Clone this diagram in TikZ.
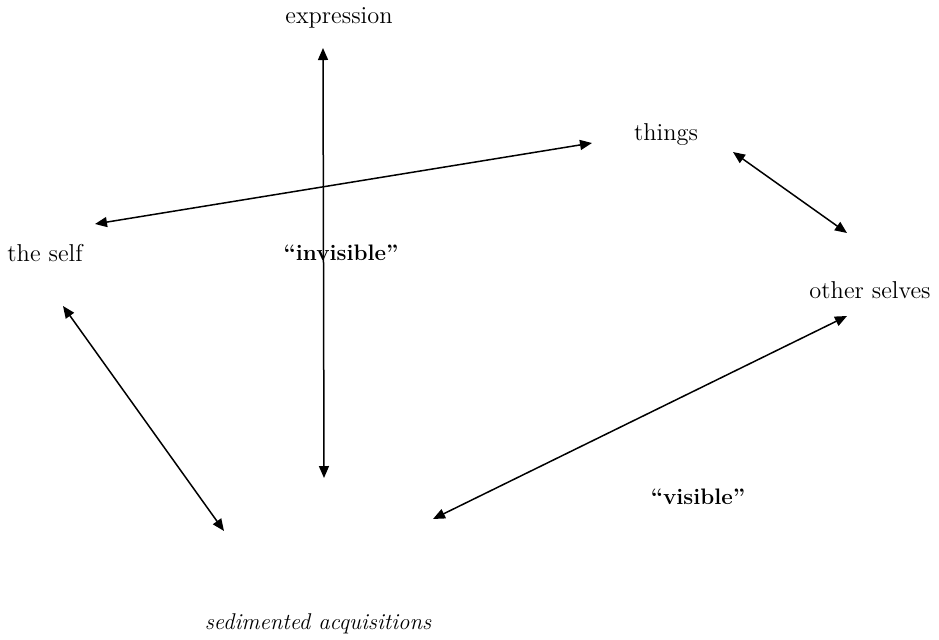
\documentclass[tikz,border=0pt]{standalone}
\usetikzlibrary{arrows.meta}
\begin{document}
\begin{tikzpicture}[x=0.5pt,y=-0.5pt,
  lbl/.style={inner sep=0pt,font=\fontsize{12.2}{14}\selectfont},
  bld/.style={inner sep=0pt,font=\fontsize{11.2}{13}\selectfont\bfseries},
  conn/.style={line width=0.75pt,{Triangle[length=6pt,width=5pt]}-{Triangle[length=6pt,width=5pt]}}]
\useasboundingbox (0,0) rectangle (939,639);
\node[lbl] (expr) at (339,18) {expression};
\node[lbl] (things) at (666,135) {things};
\node[lbl] (self) at (45,253) {the self};
\node[bld] (invis) at (341,253) {``invisible''};
\node[lbl] (others) at (870,290) {other selves};
\node[bld] (vis) at (698,497) {``visible''};
\node[lbl,font=\fontsize{11.4}{13}\selectfont\itshape] (sed) at (318,624) {sedimented acquisitions};
\coordinate (v1) at (323,48);
\coordinate (v2) at (324,478);
\coordinate (st1) at (95,224);
\coordinate (st2) at (592,143);
\coordinate (to1) at (733,152);
\coordinate (to2) at (847,233);
\coordinate (ss1) at (63,306);
\coordinate (ss2) at (224,531);
\coordinate (os1) at (847,316);
\coordinate (os2) at (433,519);
\draw[conn] (v1) -- (v2);
\draw[conn] (st1) -- (st2);
\draw[conn] (to1) -- (to2);
\draw[conn] (ss1) -- (ss2);
\draw[conn] (os1) -- (os2);
\end{tikzpicture}
\end{document}
